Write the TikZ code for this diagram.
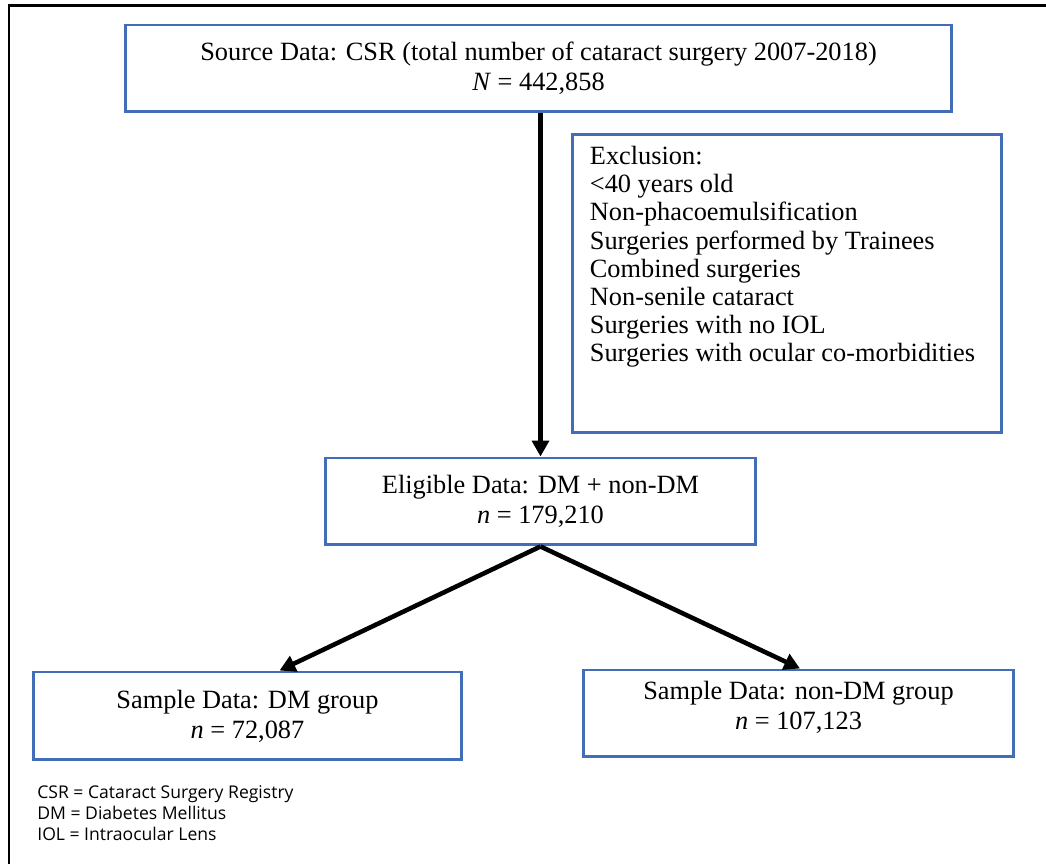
\documentclass[tikz,border=0pt]{standalone}
\usepackage{fontspec}
\setmainfont{Liberation Serif}
\newfontfamily\notefont{Open Sans}
\usetikzlibrary{arrows.meta}
\definecolor{boxblue}{RGB}{66,110,184}

\begin{document}
\begin{tikzpicture}[x=0.02cm,y=-0.02cm,
		box/.style={draw=boxblue,line width=1.7pt,align=center,inner sep=0pt,
			font=\fontsize{15}{17}\selectfont},
		arr/.style={line width=2.6pt,-{Triangle[length=9pt,width=9.5pt]}}]
			\useasboundingbox (0,0) rectangle (1046,864);
			\draw[line width=1.7pt] (9,864) -- (9,6) -- (1046,6);
			
			\node[box,minimum width=16.54cm,minimum height=1.74cm] (src) at (538.5,68.5)
			{Source Data: CSR (total number of cataract surgery 2007-2018)\\ \textit{N} = 442,858};
			\node[box,minimum width=8.6cm,minimum height=5.98cm] (excl) at (787,283.5) {};
			\node[anchor=north west,align=left,inner sep=0pt,font=\fontsize{15}{16}\selectfont] (excltxt)
			at ([xshift=0.38cm,yshift=-0.27cm]excl.north west)
			{Exclusion:\\ <40 years old\\ Non-phacoemulsification\\ Surgeries performed by Trainees\\
			Combined surgeries\\ Non-senile cataract\\ Surgeries with no IOL\\ Surgeries with ocular co-morbidities};
			\node[box,minimum width=8.62cm,minimum height=1.74cm] (elig) at (540.5,501.5)
			{Eligible Data: DM + non-DM\\ \textit{n} = 179,210};
			\node[box,minimum width=8.58cm,minimum height=1.76cm] (dm) at (247.5,716)
			{Sample Data: DM group\\ \textit{n} = 72,087};
			\node[box,minimum width=8.62cm,minimum height=1.74cm] (ndm) at (798.5,713.5)
			{Sample Data: non-DM group\\ \textit{n} = 107,123\\[-8pt]};
			
			\draw[arr] (src.south -| elig.north) -- (elig.north);
			\foreach \v/\dx in {dm/32, ndm/1.5}  % branch arrows
			{	\draw[arr] (elig.south) -- ([xshift=\dx*0.02cm]\v.north);
			}
			
			\node[anchor=north west,align=left,inner sep=0pt,font=\notefont\fontsize{10}{12}\selectfont] (note)
			at (37,785) {CSR = Cataract Surgery Registry\\ DM = Diabetes Mellitus\\ IOL = Intraocular Lens};
		\end{tikzpicture}
\end{document}
